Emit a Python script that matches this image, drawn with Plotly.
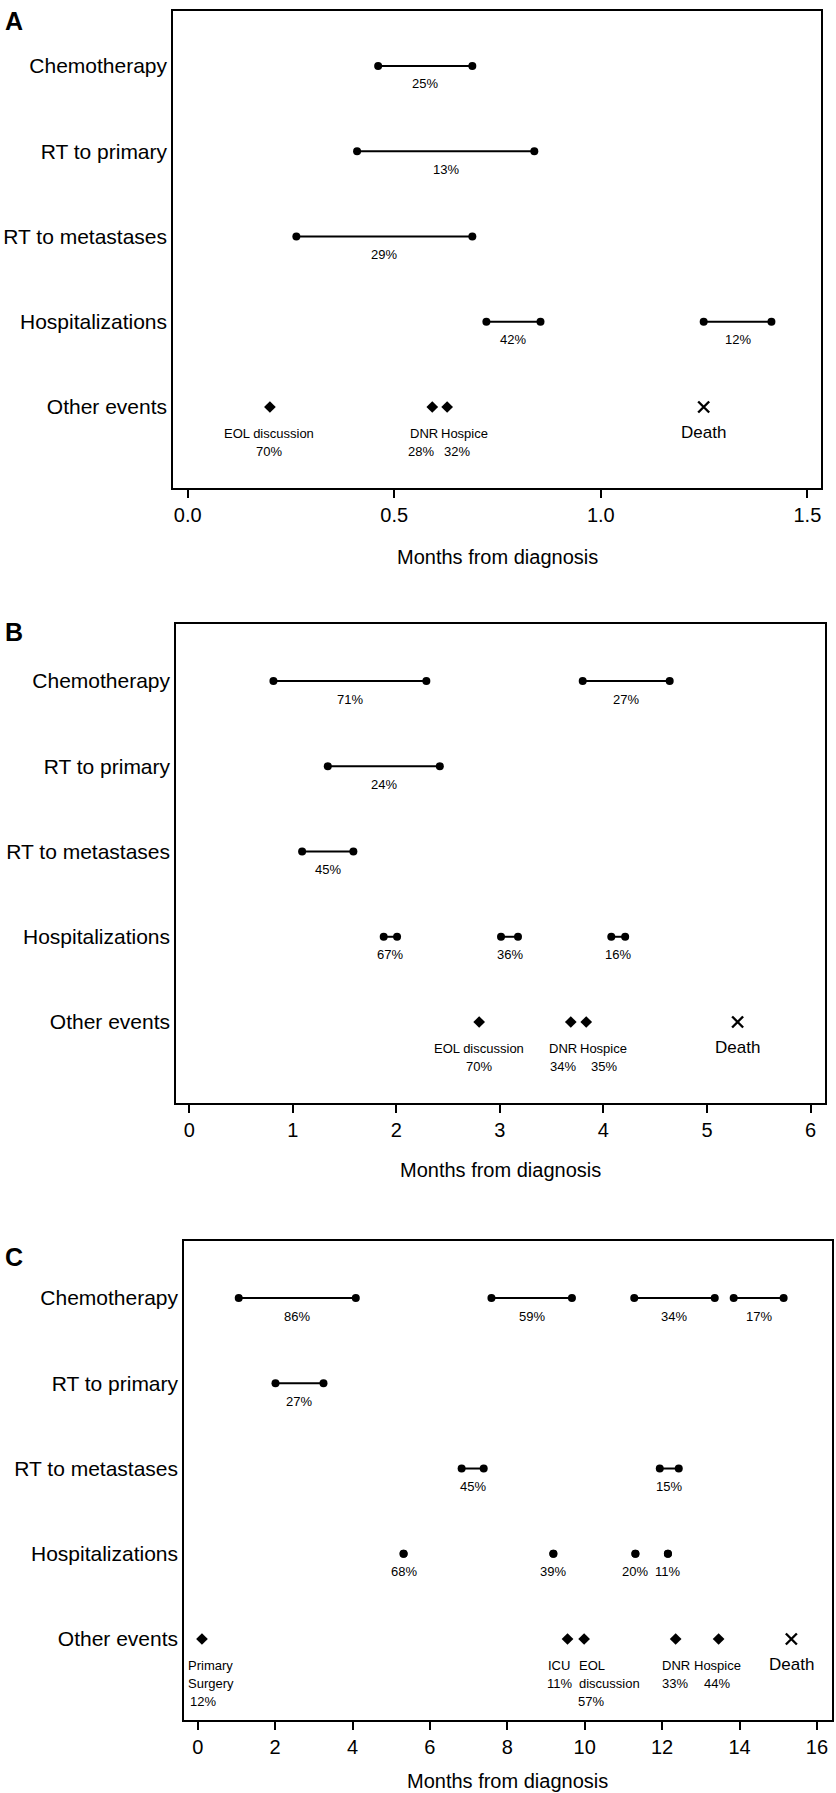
import plotly.graph_objects as go

W, H = 836, 1793

categories = ["Chemotherapy", "RT to primary", "RT to metastases", "Hospitalizations", "Other events"]
cat_y = [5, 4, 3, 2, 1]

# ---------------- Panel A ----------------
A_seg_cat = ["Chemotherapy", "RT to primary", "RT to metastases", "Hospitalizations", "Hospitalizations"]
A_seg_start = [0.461, 0.410, 0.263, 0.723, 1.249]
A_seg_end = [0.689, 0.839, 0.689, 0.854, 1.413]
A_seg_pct = ["25%", "13%", "29%", "42%", "12%"]
A_evt_name = ["EOL discussion", "DNR", "Hospice"]
A_evt_x = [0.199, 0.592, 0.628]
A_evt_pct = ["70%", "28%", "32%"]
A_death = 1.249
A_ticks = [0.0, 0.5, 1.0, 1.5]
A_ticktext = ["0.0", "0.5", "1.0", "1.5"]

# ---------------- Panel B ----------------
B_seg_cat = ["Chemotherapy", "Chemotherapy", "RT to primary", "RT to metastases",
             "Hospitalizations", "Hospitalizations", "Hospitalizations"]
B_seg_start = [0.813, 3.80, 1.338, 1.09, 1.878, 3.011, 4.076]
B_seg_end = [2.29, 4.64, 2.42, 1.585, 2.007, 3.175, 4.21]
B_seg_pct = ["71%", "27%", "24%", "45%", "67%", "36%", "16%"]
B_evt_name = ["EOL discussion", "DNR", "Hospice"]
B_evt_x = [2.80, 3.685, 3.834]
B_evt_pct = ["70%", "34%", "35%"]
B_death = 5.296
B_ticks = [0, 1, 2, 3, 4, 5, 6]
B_ticktext = ["0", "1", "2", "3", "4", "5", "6"]

# ---------------- Panel C ----------------
C_seg_cat = ["Chemotherapy", "Chemotherapy", "Chemotherapy", "Chemotherapy",
             "RT to primary", "RT to metastases", "RT to metastases",
             "Hospitalizations", "Hospitalizations", "Hospitalizations", "Hospitalizations"]
C_seg_start = [1.06, 7.59, 11.28, 13.85, 2.01, 6.82, 11.94, 5.32, 9.19, 11.31, 12.15]
C_seg_end = [4.085, 9.67, 13.36, 15.14, 3.25, 7.39, 12.43, 5.32, 9.19, 11.31, 12.15]
C_seg_pct = ["86%", "59%", "34%", "17%", "27%", "45%", "15%", "68%", "39%", "20%", "11%"]
C_evt_name = ["Primary\nSurgery", "ICU", "EOL\ndiscussion", "DNR", "Hospice"]
C_evt_x = [0.11, 9.556, 9.985, 12.35, 13.46]
C_evt_pct = ["12%", "11%", "57%", "33%", "44%"]
C_death = 15.34
C_ticks = [0, 2, 4, 6, 8, 10, 12, 14, 16]
C_ticktext = ["0", "2", "4", "6", "8", "10", "12", "14", "16"]

# ---------------- layout / style (pixels) ----------------
FONT = "Liberation Sans, Arial, Helvetica, sans-serif"
panels = [
    dict(letter="A", box=(173, 821, 11, 488), xr=(-0.0356, 1.533), yr=(0.05, 5.645),
         seg=(A_seg_cat, A_seg_start, A_seg_end, A_seg_pct),
         evt=(A_evt_name, A_evt_x, A_evt_pct), death=A_death,
         ticks=(A_ticks, A_ticktext),
         name_anchor=["center", "center", "center"], name_shift=[-1, -8.5, 17],
         pct_shift=[-1, -11.5, 9.5], letter_y=21, title_y=557),
    dict(letter="B", box=(176, 825, 624, 1103), xr=(-0.128, 6.14), yr=(0.05, 5.669),
         seg=(B_seg_cat, B_seg_start, B_seg_end, B_seg_pct),
         evt=(B_evt_name, B_evt_x, B_evt_pct), death=B_death,
         ticks=(B_ticks, B_ticktext),
         name_anchor=["center", "center", "center"], name_shift=[0, -7.6, 17.6],
         pct_shift=[0, -7.6, 17.6], letter_y=632, title_y=1170),
    dict(letter="C", box=(184, 832, 1241, 1720), xr=(-0.354, 16.39), yr=(0.05, 5.669),
         seg=(C_seg_cat, C_seg_start, C_seg_end, C_seg_pct),
         evt=(C_evt_name, C_evt_x, C_evt_pct), death=C_death,
         ticks=(C_ticks, C_ticktext),
         name_anchor=["left", "center", "left", "center", "center"],
         name_shift=[-15.5, -9, -7, 0, -1.5],
         pct_shift=[1, -8, 7, -1, -1.5], letter_y=1257, title_y=1781),
]

cat_map = dict(zip(categories, cat_y))

fig = go.Figure()
annotations = []
layout = {}

def py(p):
    return 1 - p / H

for i, P in enumerate(panels):
    n = "" if i == 0 else str(i + 1)
    xa, ya = "x" + n, "y" + n
    xl, xr_, yt, yb = P["box"]
    layout["xaxis" + n] = dict(
        domain=[xl / W, xr_ / W], range=list(P["xr"]), anchor=ya,
        tickvals=P["ticks"][0], ticktext=P["ticks"][1],
        ticks="outside", ticklen=8, tickwidth=1.5, tickcolor="black",
        showline=True, mirror=True, linecolor="black", linewidth=1.5,
        showgrid=False, zeroline=False,
        tickfont=dict(family=FONT, size=20, color="black"), fixedrange=True)
    layout["yaxis" + n] = dict(
        domain=[py(yb), py(yt)], range=list(P["yr"]), anchor=xa,
        tickvals=cat_y, ticktext=categories, ticks="",
        showline=True, mirror=True, linecolor="black", linewidth=1.5,
        showgrid=False, zeroline=False,
        tickfont=dict(family=FONT, size=21, color="black"), fixedrange=True)

    cats, starts, ends, pcts = P["seg"]
    for c, s, e, pc in zip(cats, starts, ends, pcts):
        yv = cat_map[c]
        fig.add_trace(go.Scatter(
            x=[s, e], y=[yv, yv], mode="lines+markers", xaxis=xa, yaxis=ya,
            line=dict(color="black", width=2),
            marker=dict(color="black", size=8, symbol="circle"),
            showlegend=False, hoverinfo="skip"))
        annotations.append(dict(
            x=(s + e) / 2, y=yv, xref=xa, yref=ya, text=pc, showarrow=False,
            yshift=-18, font=dict(family=FONT, size=13, color="black")))

    names, exs, epcts = P["evt"]
    fig.add_trace(go.Scatter(
        x=exs, y=[cat_map["Other events"]] * len(exs), mode="markers",
        xaxis=xa, yaxis=ya,
        marker=dict(color="black", size=9, symbol="diamond"),
        showlegend=False, hoverinfo="skip"))
    for k, (nm, ex, pc) in enumerate(zip(names, exs, epcts)):
        lines = nm.split("\n")
        for j, ln in enumerate(lines):
            annotations.append(dict(
                x=ex, y=1, xref=xa, yref=ya, text=ln, showarrow=False,
                xanchor=P["name_anchor"][k], xshift=P["name_shift"][k],
                yshift=-26 - 18 * j,
                font=dict(family=FONT, size=13, color="black")))
        annotations.append(dict(
            x=ex, y=1, xref=xa, yref=ya, text=pc, showarrow=False,
            xshift=P["pct_shift"][k], yshift=-26 - 18 * len(lines),
            font=dict(family=FONT, size=13, color="black")))

    fig.add_trace(go.Scatter(
        x=[P["death"]], y=[1], mode="markers", xaxis=xa, yaxis=ya,
        marker=dict(symbol="x-thin", size=11, color="black",
                    line=dict(color="black", width=2.4)),
        showlegend=False, hoverinfo="skip"))
    annotations.append(dict(
        x=P["death"], y=1, xref=xa, yref=ya, text="Death", showarrow=False,
        yshift=-25, font=dict(family=FONT, size=17, color="black")))

    annotations.append(dict(
        x=3 / W, y=py(P["letter_y"]), xref="paper", yref="paper", text="<b>%s</b>" % P["letter"],
        showarrow=False, xanchor="left", yanchor="middle",
        font=dict(family=FONT, size=25, color="black")))
    annotations.append(dict(
        x=(xl + xr_) / 2 / W, y=py(P["title_y"]), xref="paper", yref="paper",
        text="Months from diagnosis", showarrow=False, xanchor="center", yanchor="middle",
        font=dict(family=FONT, size=20, color="black")))

fig.update_layout(
    width=W, height=H, margin=dict(l=0, r=0, t=0, b=0),
    paper_bgcolor="white", plot_bgcolor="white",
    annotations=annotations, **layout)

fig.write_html("out.html", config={"displayModeBar": False},
               post_script="document.body.style.margin='0px';document.body.style.padding='0px';")
